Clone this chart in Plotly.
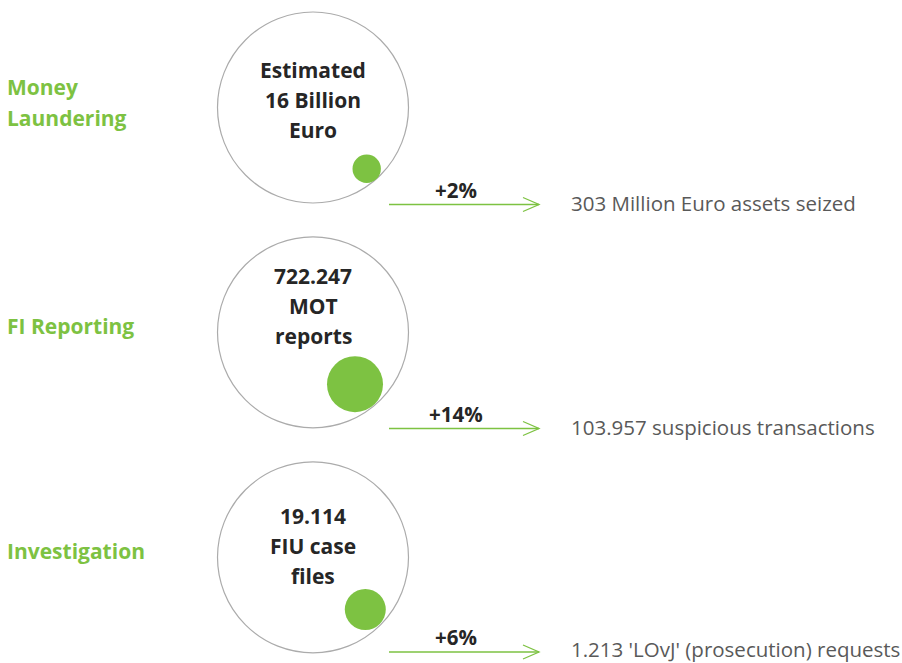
import plotly.graph_objects as go

# ---- data ----
categories = ["Money<br>Laundering", "FI Reporting", "Investigation"]
totals = [["Estimated", "16 Billion", "Euro"],
          ["722.247", "MOT", "reports"],
          ["19.114", "FIU case", "files"]]
changes = ["+2%", "+14%", "+6%"]
outcomes = ["303 Million Euro assets seized",
            "103.957 suspicious transactions",
            "1.213 'LOvJ' (prosecution) requests"]

# ---- layout constants ----
W, H = 902, 663
GREEN = "#7DC242"
DARK = "#262626"
GREY_TXT = "#595959"
row_y = [107.5, 332.3, 557.3]          # centre of each big circle
text_mid = [100, 306, 546]             # middle line of circle text
big_cx, big_r = 313, 95.5
small = [(366.7, 168.7, 14.2), (355, 384.2, 28), (365.3, 609.5, 20.5)]  # x, y, radius
arrow_y = [204.5, 428.5, 652]
outcome_dy = [-1.5, -1.5, -3]
arrow_x0, arrow_x1 = 389, 539

fig = go.Figure()
fig.add_trace(go.Scatter(x=[0, W], y=[0, H], mode="markers",
                         marker=dict(opacity=0), hoverinfo="skip", showlegend=False))

shapes = []
annots = []
for i, yc in enumerate(row_y):
    shapes.append(dict(type="circle", xref="x", yref="y",
                       x0=big_cx - big_r, x1=big_cx + big_r, y0=yc - big_r, y1=yc + big_r,
                       line=dict(color="#ababab", width=1.2), fillcolor="rgba(0,0,0,0)"))
    sx, sy, sr = small[i]
    shapes.append(dict(type="circle", xref="x", yref="y",
                       x0=sx - sr, x1=sx + sr, y0=sy - sr, y1=sy + sr,
                       line=dict(width=0), fillcolor=GREEN))
    ay = arrow_y[i]
    shapes.append(dict(type="line", xref="x", yref="y", x0=arrow_x0, x1=arrow_x1, y0=ay, y1=ay,
                       line=dict(color=GREEN, width=1.5)))
    shapes.append(dict(type="path", xref="x", yref="y",
                       path=f"M {arrow_x1-16},{ay-7} L {arrow_x1},{ay} L {arrow_x1-16},{ay+7}",
                       line=dict(color=GREEN, width=1.3)))
    for k, line in enumerate(totals[i]):
        annots.append(dict(x=big_cx, y=text_mid[i] + 30 * (k - 1), text=f"<b>{line}</b>",
                           showarrow=False, xanchor="center", yanchor="middle",
                           font=dict(family="Open Sans", size=21, color=DARK)))
    cat_lines = categories[i].split("<br>")
    n = len(cat_lines)
    for k, line in enumerate(cat_lines):
        yy = yc - 21 + 31 * k if n > 1 else yc - 6
        annots.append(dict(x=5, y=yy, text=f"<b>{line}</b>",
                           showarrow=False, xanchor="left", yanchor="middle",
                           font=dict(family="Open Sans", size=21, color=GREEN)))
    annots.append(dict(x=456, y=ay - 15, text=f"<b>{changes[i]}</b>", showarrow=False,
                       xanchor="center", yanchor="middle",
                       font=dict(family="Open Sans", size=20.5, color=DARK)))
    annots.append(dict(x=569, y=ay + outcome_dy[i], text=outcomes[i], showarrow=False,
                       xanchor="left", yanchor="middle",
                       font=dict(family="Open Sans", size=20.5, color=GREY_TXT)))

fig.update_layout(width=W, height=H, margin=dict(l=0, r=0, t=0, b=0),
                  paper_bgcolor="white", plot_bgcolor="white",
                  shapes=shapes, annotations=annots, showlegend=False,
                  xaxis=dict(range=[0, W], visible=False, fixedrange=True),
                  yaxis=dict(range=[H, 0], visible=False, fixedrange=True))
fig.write_html("out.html", config={"displayModeBar": False},
               post_script="document.body.style.margin='0';document.body.style.overflow='hidden';")
